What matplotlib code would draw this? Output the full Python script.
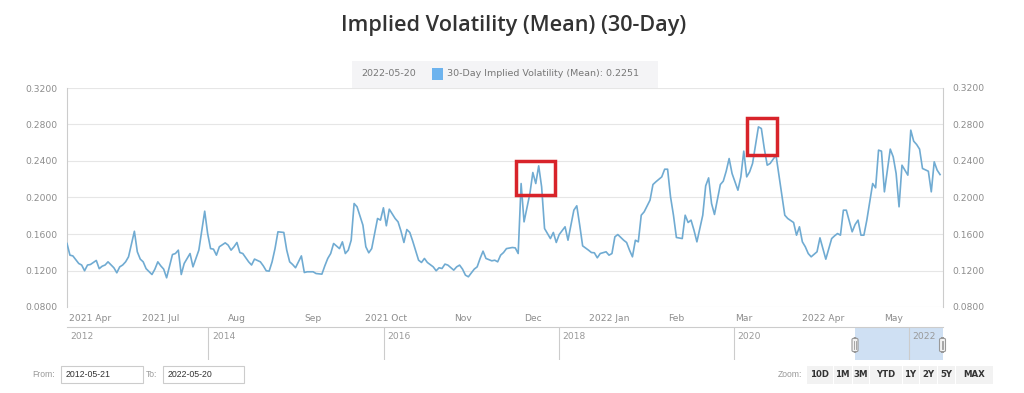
import matplotlib
matplotlib.use('Agg')
import matplotlib.pyplot as plt
from matplotlib.patches import Rectangle, FancyBboxPatch
import numpy as np

# ---------------- data ----------------
trading_day = [0, 1, 2, 4, 5, 6, 7, 8, 10, 11, 12, 13, 14, 16, 17, 18, 19, 20, 21, 23,
               24, 25, 26, 27, 29, 30, 31, 32, 33, 34, 36, 37, 38, 39, 40, 42, 43, 44, 45, 47,
               48, 49, 50, 51, 52, 54, 55, 56, 57, 58, 59, 60, 62, 63, 64, 66, 67, 68, 69, 70,
               71, 72, 74, 75, 76, 77, 78, 80, 81, 82, 84, 85, 87, 88, 89, 90, 91, 93, 94, 95,
               96, 97, 98, 99, 101, 102, 103, 104, 106, 107, 108, 109, 110, 112, 113, 114, 115, 116, 117, 118,
               120, 121, 122, 123, 125, 126, 127, 128, 129, 130, 132, 133, 134, 135, 136, 137, 139, 140, 141, 142,
               143, 145, 146, 147, 148, 149, 150, 152, 153, 154, 155, 156, 158, 159, 160, 161, 162, 163, 165, 166,
               167, 168, 170, 171, 172, 173, 174, 175, 176, 178, 179, 180, 181, 182, 184, 185, 186, 187, 188, 190,
               191, 192, 193, 194, 195, 196, 197, 199, 200, 201, 203, 204, 205, 206, 207, 208, 210, 211, 212, 213,
               214, 215, 217, 218, 219, 220, 221, 223, 224, 225, 226, 227, 229, 230, 231, 232, 233, 234, 236, 237,
               238, 239, 240, 242, 243, 244, 245, 246, 248, 249, 250, 251, 252, 253, 254, 256, 257, 258, 259, 261,
               262, 263, 264, 265, 266, 268, 269, 270, 271, 272, 273, 275, 276, 277, 278, 279, 281, 282, 283, 284,
               285, 287, 288, 289, 290, 291, 292, 294, 295, 296, 297, 298]
iv_mean = [0.1496, 0.1368, 0.1360, 0.1277, 0.1260, 0.1197, 0.1260, 0.1266, 0.1310, 0.1220,
           0.1247, 0.1260, 0.1295, 0.1230, 0.1175, 0.1240, 0.1260, 0.1295, 0.1350, 0.1630,
           0.1405, 0.1325, 0.1295, 0.1220, 0.1156, 0.1215, 0.1295, 0.1251, 0.1215, 0.1120,
           0.1375, 0.1386, 0.1423, 0.1156, 0.1277, 0.1386, 0.1240, 0.1332, 0.1423, 0.1850,
           0.1606, 0.1440, 0.1434, 0.1368, 0.1460, 0.1503, 0.1478, 0.1423, 0.1460, 0.1507,
           0.1397, 0.1386, 0.1295, 0.1260, 0.1325, 0.1295, 0.1251, 0.1197, 0.1193, 0.1295,
           0.1440, 0.1624, 0.1617, 0.1423, 0.1295, 0.1266, 0.1230, 0.1360, 0.1178, 0.1186,
           0.1186, 0.1167, 0.1160, 0.1251, 0.1332, 0.1386, 0.1496, 0.1440, 0.1514, 0.1386,
           0.1423, 0.1532, 0.1934, 0.1898, 0.1697, 0.1460, 0.1394, 0.1440, 0.1770, 0.1752,
           0.1887, 0.1690, 0.1872, 0.1770, 0.1733, 0.1631, 0.1507, 0.1649, 0.1617, 0.1522,
           0.1313, 0.1288, 0.1332, 0.1288, 0.1240, 0.1197, 0.1230, 0.1222, 0.1270, 0.1259,
           0.1204, 0.1240, 0.1259, 0.1215, 0.1149, 0.1131, 0.1215, 0.1240, 0.1332, 0.1412,
           0.1332, 0.1306, 0.1313, 0.1295, 0.1368, 0.1397, 0.1440, 0.1452, 0.1448, 0.1386,
           0.2153, 0.1733, 0.2044, 0.2274, 0.2153, 0.2347, 0.2117, 0.1660, 0.1550, 0.1617,
           0.1507, 0.1594, 0.1679, 0.1532, 0.1697, 0.1861, 0.1909, 0.1697, 0.1470, 0.1423,
           0.1397, 0.1394, 0.1339, 0.1386, 0.1405, 0.1368, 0.1386, 0.1569, 0.1594, 0.1532,
           0.1507, 0.1423, 0.1350, 0.1532, 0.1514, 0.1806, 0.1843, 0.1971, 0.2142, 0.2172,
           0.2226, 0.2310, 0.2310, 0.2007, 0.1806, 0.1562, 0.1550, 0.1806, 0.1726, 0.1752,
           0.1642, 0.1514, 0.1806, 0.2128, 0.2215, 0.1934, 0.1814, 0.2142, 0.2179, 0.2288,
           0.2427, 0.2263, 0.2080, 0.2226, 0.2508, 0.2226, 0.2281, 0.2373, 0.2774, 0.2756,
           0.2537, 0.2354, 0.2373, 0.2464, 0.2245, 0.2026, 0.1806, 0.1770, 0.1726, 0.1587,
           0.1679, 0.1514, 0.1460, 0.1386, 0.1350, 0.1405, 0.1558, 0.1440, 0.1324, 0.1550,
           0.1580, 0.1605, 0.1587, 0.1861, 0.1861, 0.1624, 0.1704, 0.1752, 0.1587, 0.1587,
           0.1752, 0.2153, 0.2106, 0.2519, 0.2508, 0.2062, 0.2530, 0.2446, 0.2263, 0.1898,
           0.2354, 0.2245, 0.2738, 0.2617, 0.2581, 0.2530, 0.2318, 0.2288, 0.2062, 0.2391,
           0.2300, 0.2251]

month_tick_day = [8, 32, 58, 84, 109, 135, 159, 185, 208, 231, 258, 282]
month_labels = ['2021 Apr', '2021 Jul', 'Aug', 'Sep', '2021 Oct', 'Nov', 'Dec',
                '2022 Jan', 'Feb', 'Mar', '2022 Apr', 'May']
y_ticks = [0.08, 0.12, 0.16, 0.20, 0.24, 0.28, 0.32]

nav_years = [2014, 2016, 2018, 2020, 2022]
nav_range = (2012.385, 2022.385)
nav_selection = (2021.38, 2022.385)

# highlighted regions (trading day range, value range)
highlight_boxes = [((153.1, 166.6), (0.2027, 0.2403)),
                   ((232.0, 242.2), (0.2466, 0.2875))]

title = 'Implied Volatility (Mean) (30-Day)'
legend_date = '2022-05-20'
legend_label = '30-Day Implied Volatility (Mean): 0.2251'
from_date, to_date = '2012-05-21', '2022-05-20'
zoom_buttons = ['10D', '1M', '3M', 'YTD', '1Y', '2Y', '5Y', 'MAX']

# ---------------- figure ----------------
W, H = 1024, 393
fig = plt.figure(figsize=(W / 100, H / 100), dpi=100)
fig.patch.set_facecolor('white')


def fx(px):
    return px / W


def fy(py):
    return 1 - py / H


LINE = '#70abd2'
GRID = '#e6e6e6'
LAB = '#8c8c8c'
tick_font = 'DejaVu Sans'

ax = fig.add_axes([fx(67), fy(307), fx(943) - fx(67), fy(88) - fy(307)])
ax.plot(trading_day, iv_mean, color=LINE, lw=1.2, solid_joinstyle='round', zorder=3)
ax.set_xlim(0, 299)
ax.set_ylim(y_ticks[0], y_ticks[-1])
ax.set_yticks(y_ticks)
ax.set_yticklabels([f'{v:.4f}' for v in y_ticks], fontsize=6.6, color=LAB, family=tick_font)
ax.grid(axis='y', color=GRID, lw=0.8, zorder=0)
ax.set_xticks(month_tick_day)
ax.set_xticklabels(month_labels, fontsize=6.6, color=LAB, family=tick_font)
ax.tick_params(axis='x', length=0, pad=5)
ax.tick_params(axis='y', length=0, pad=7)
for s in ['top', 'bottom']:
    ax.spines[s].set_visible(False)
for s in ['left', 'right']:
    ax.spines[s].set_color('#cccccc')
    ax.spines[s].set_linewidth(0.8)

ax2 = ax.twinx()
ax2.set_ylim(y_ticks[0], y_ticks[-1])
ax2.set_yticks(y_ticks)
ax2.set_yticklabels([f'{v:.4f}' for v in y_ticks], fontsize=6.6, color=LAB, family=tick_font)
ax2.tick_params(axis='y', length=0, pad=7)
for s in ax2.spines.values():
    s.set_visible(False)

for (x0, x1), (y0, y1) in highlight_boxes:
    ax.add_patch(Rectangle((x0, y0), x1 - x0, y1 - y0, fill=False, edgecolor='#d8232a',
                           lw=2.5, zorder=5, clip_on=False))

# title
fig.text(fx(514), fy(25), title, ha='center', va='center', fontsize=15.6,
         family='Open Sans', color='#333333', fontweight='semibold')

# legend / tooltip box
fig.add_artist(Rectangle((fx(352), fy(88)), fx(658) - fx(352), fy(61) - fy(88),
                         transform=fig.transFigure, facecolor='#f4f4f6', edgecolor='none', zorder=1))
fig.text(fx(361), fy(74), legend_date, ha='left', va='center', fontsize=6.8,
         family=tick_font, color='#777777', zorder=2)
fig.add_artist(Rectangle((fx(432), fy(79.5)), fx(443) - fx(432), fy(68.5) - fy(79.5),
                         transform=fig.transFigure, facecolor='#6db3ee', edgecolor='none', zorder=2))
fig.text(fx(447), fy(74), legend_label, ha='left', va='center', fontsize=6.8,
         family=tick_font, color='#777777', zorder=2)

# navigator
nav = fig.add_axes([fx(67), fy(360), fx(943) - fx(67), fy(327) - fy(360)])
nav.set_xlim(*nav_range)
nav.set_ylim(0, 1)
nav.set_xticks([])
nav.set_yticks([])
for s in ['left', 'right', 'bottom']:
    nav.spines[s].set_visible(False)
nav.spines['top'].set_color('#cccccc')
nav.spines['top'].set_linewidth(0.8)
nav.axvspan(nav_selection[0], nav_selection[1], color='#cfe0f3', lw=0, zorder=0)
for yr in nav_years:
    nav.axvline(yr, color='#cccccc', lw=0.8, zorder=1)
    nav.text(yr + 0.04, 0.7, str(yr), fontsize=6.6, color='#999999', family=tick_font,
             ha='left', va='center', zorder=2)
nav.text(nav_range[0] + 0.04, 0.7, '2012', fontsize=6.6, color='#999999', family=tick_font,
         ha='left', va='center')

# handles
for hx in (855, 942.5):
    fig.add_artist(FancyBboxPatch((fx(hx - 3), fy(352)), fx(6), fy(338) - fy(352),
                                  boxstyle='round,pad=0,rounding_size=0.004',
                                  transform=fig.transFigure, facecolor='#f2f2f2',
                                  edgecolor='#999999', lw=0.8, zorder=6))
    fig.add_artist(plt.Line2D([fx(hx - 0.6), fx(hx - 0.6)], [fy(349), fy(341)],
                              transform=fig.transFigure, color='#999999', lw=0.6, zorder=7))
    fig.add_artist(plt.Line2D([fx(hx + 0.8), fx(hx + 0.8)], [fy(349), fy(341)],
                              transform=fig.transFigure, color='#999999', lw=0.6, zorder=7))

# bottom controls
ctrl_font = 'Liberation Sans'
fig.text(fx(55), fy(374.5), 'From:', ha='right', va='center', fontsize=6.2,
         family=ctrl_font, color='#999999')
fig.text(fx(157), fy(374.5), 'To:', ha='right', va='center', fontsize=6.2,
         family=ctrl_font, color='#999999')
for (bx0, bx1, txt) in [(61, 143, from_date), (163, 244, to_date)]:
    fig.add_artist(Rectangle((fx(bx0), fy(383)), fx(bx1) - fx(bx0), fy(366) - fy(383),
                             transform=fig.transFigure, facecolor='white', edgecolor='#cccccc', lw=0.8))
    fig.text(fx(bx0 + 5), fy(374.5), txt, ha='left', va='center', fontsize=6.3,
             family=ctrl_font, color='#333333')

fig.text(fx(802), fy(374.5), 'Zoom:', ha='right', va='center', fontsize=6.2,
         family=ctrl_font, color='#999999')
btn_edges = [806, 833, 852, 869, 902, 919, 937, 955, 993]
for i, lab in enumerate(zoom_buttons):
    x0, x1 = btn_edges[i], btn_edges[i + 1]
    fig.add_artist(Rectangle((fx(x0 + 0.5), fy(384)), fx(x1 - x0 - 1), fy(366) - fy(384),
                             transform=fig.transFigure, facecolor='#f2f2f2', edgecolor='none'))
    fig.text(fx((x0 + x1) / 2), fy(374.5), lab, ha='center', va='center', fontsize=6.2,
             family=tick_font, fontweight='bold', color='#333333')

fig.savefig('out.png', dpi=100, facecolor='white')
